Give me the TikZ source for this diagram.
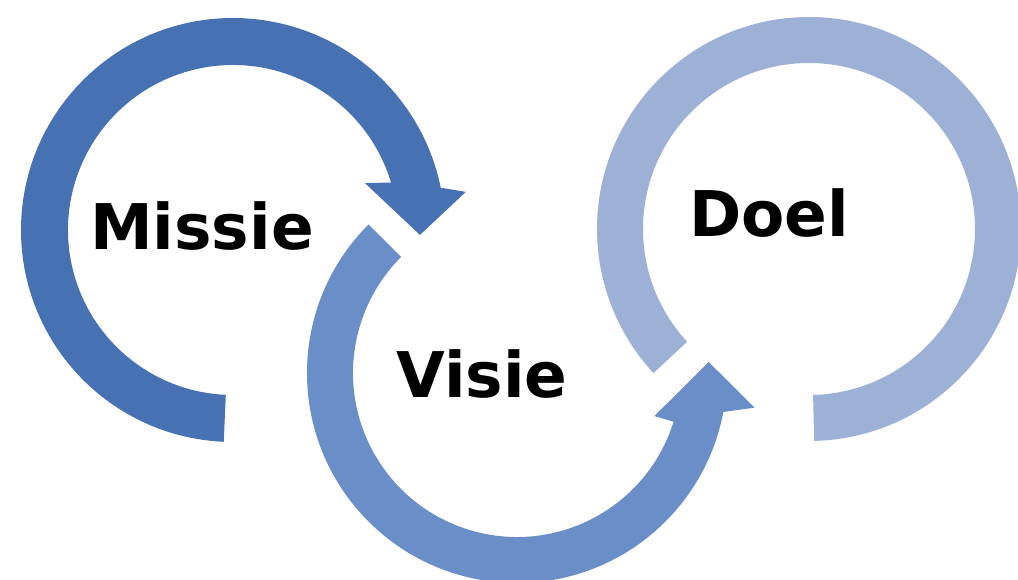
\documentclass[tikz,border=0pt]{standalone}
\usepackage{fontspec}
\newfontfamily\labelfont{DejaVu Sans}
\definecolor{ringA}{RGB}{70,114,180}
\definecolor{ringB}{RGB}{106,142,199}
\definecolor{ringC}{RGB}{157,177,214}
\tikzset{
  lbl/.style={font=\labelfont\bfseries\fontsize{63}{63}\selectfont, text=black, anchor=base, inner sep=0pt},
}
\begin{document}
\begin{tikzpicture}[x=1pt,y=1pt]
\useasboundingbox (0,0) rectangle (1018,579);
\clip (0,0) rectangle (1018,579);
\fill[white] (0,0) rectangle (1018,579);
\coordinate (cL) at (233,349);
\coordinate (cM) at (517,206);
\coordinate (cR) at (809,350);
% left ring with arrow (Missie)
\fill[ringA] ([shift={(267.5:212)}]cL) arc[start angle=267.5, end angle=11.5, radius=212]
  -- ([shift={(9.3:236)}]cL) -- ([shift={(-1.5:187)}]cL) -- ([shift={(19.6:140)}]cL)
  -- ([shift={(16.7:165)}]cL) arc[start angle=16.7, end angle=267.5, radius=165] -- cycle;
% middle ring with arrow (Visie)
\fill[ringB] ([shift={(135:210)}]cM) arc[start angle=135, end angle=349.3, radius=210]
  -- ([shift={(351.7:240)}]cM) -- ([shift={(363.3:192)}]cM) -- ([shift={(342.6:144)}]cM)
  -- ([shift={(342.7:164)}]cM) arc[start angle=342.7, end angle=135, radius=164] -- cycle;
% right ring (Doel)
\fill[ringC] ([shift={(-88.6:212)}]cR) arc[start angle=-88.6, end angle=222.8, radius=212]
  -- ([shift={(222.8:166)}]cR) arc[start angle=222.8, end angle=-88.6, radius=166] -- cycle;
\node[lbl] (missie) at (202,329) {Missie};
\node[lbl] (visie) at (482,181) {Visie};
\node[lbl] (doel) at (769,342) {Doel};
\end{tikzpicture}
\end{document}
